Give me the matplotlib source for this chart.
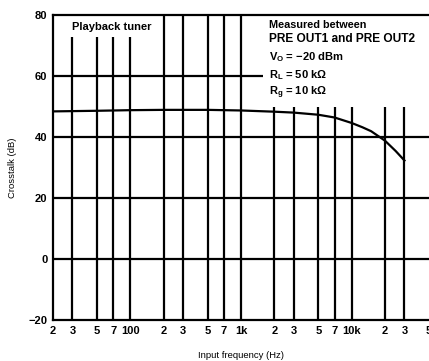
import matplotlib
matplotlib.use("Agg")
import matplotlib.pyplot as plt
from matplotlib.patches import Rectangle

plt.rcParams['font.family'] = ['Liberation Sans', 'DejaVu Sans']
plt.rcParams['font.weight'] = 'bold'
plt.rcParams['mathtext.fontset'] = 'custom'
plt.rcParams['mathtext.rm'] = 'Liberation Sans:bold'
plt.rcParams['mathtext.it'] = 'Liberation Sans:bold'
plt.rcParams['mathtext.bf'] = 'Liberation Sans:bold'

# crosstalk between PRE OUT1 and PRE OUT2
freq_hz = [20, 50, 100, 200, 500, 1000, 2000, 3000, 5000, 7000, 10000, 12500, 15000, 20000, 25000, 30000]
crosstalk_db = [48.4, 48.6, 48.8, 48.9, 48.9, 48.7, 48.3, 48.0, 47.3, 46.4, 44.6, 43.2, 41.9, 38.8, 35.4, 32.3]

x_ticks = [20, 30, 50, 70, 100, 200, 300, 500, 700, 1000, 2000, 3000, 5000, 7000, 10000, 20000, 30000, 50000]
x_tick_labels = ['2', '3', '5', '7', '100', '2', '3', '5', '7', '1k', '2', '3', '5', '7', '10k', '2', '3', '5']
y_ticks = [-20, 0, 20, 40, 60, 80]

fig = plt.figure(figsize=(4.29, 3.61), dpi=100)
ax = fig.add_axes([0.1235, 0.1136, 0.8765, 0.8448])
ax.set_xscale('log')
ax.set_xlim(20, 50000)
ax.set_ylim(-20, 80)

lw = 1.6
# grid lines drawn by hand so the label boxes can cover them
for f in x_ticks[1:-1]:
    ax.axvline(f, color='black', lw=lw, zorder=1)
for v in y_ticks[1:-1]:
    ax.axhline(v, color='black', lw=lw, zorder=1)

# white backgrounds behind the labels
ax.add_patch(Rectangle((20, 72.8), 165, 10, facecolor='white', edgecolor='none', zorder=2))
ax.add_patch(Rectangle((1580, 49.8), 60000, 35, facecolor='white', edgecolor='none', zorder=2))

ax.plot(freq_hz, crosstalk_db, color='black', lw=lw, zorder=3)

ax.text(0.05, 0.962, 'Playback tuner', transform=ax.transAxes, fontsize=8,
        va='center', ha='left', zorder=4)
ax.text(0.574, 0.966, 'Measured between', transform=ax.transAxes,
        fontsize=7.8, va='center', ha='left', zorder=4)
ax.text(0.574, 0.920, 'PRE OUT1 and PRE OUT2', transform=ax.transAxes,
        fontsize=8.6, va='center', ha='left', zorder=4)
ax.text(0.574, 0.862, r'V$_\mathrm{O}$ = $-$20 dBm', transform=ax.transAxes, fontsize=8,
        va='center', ha='left', zorder=4)
ax.text(0.574, 0.803, r'R$_\mathrm{L}$ = 50 k$\Omega$', transform=ax.transAxes, fontsize=8,
        va='center', ha='left', zorder=4)
ax.text(0.574, 0.744, r'R$_\mathrm{g}$ = 10 k$\Omega$', transform=ax.transAxes, fontsize=8,
        va='center', ha='left', zorder=4)

ax.set_xticks(x_ticks)
ax.set_xticklabels(x_tick_labels)
ax.xaxis.set_minor_locator(plt.NullLocator())
ax.set_yticks(y_ticks)
ax.tick_params(length=0, labelsize=8, pad=4)
ax.set_xlabel('Input frequency (Hz)', fontsize=6.8, labelpad=11)
ax.set_ylabel('Crosstalk (dB)', fontsize=6.8, labelpad=8)

for side in ['left', 'top', 'bottom']:
    ax.spines[side].set_linewidth(lw)
ax.spines['right'].set_visible(False)

fig.savefig('out.png', dpi=100)
